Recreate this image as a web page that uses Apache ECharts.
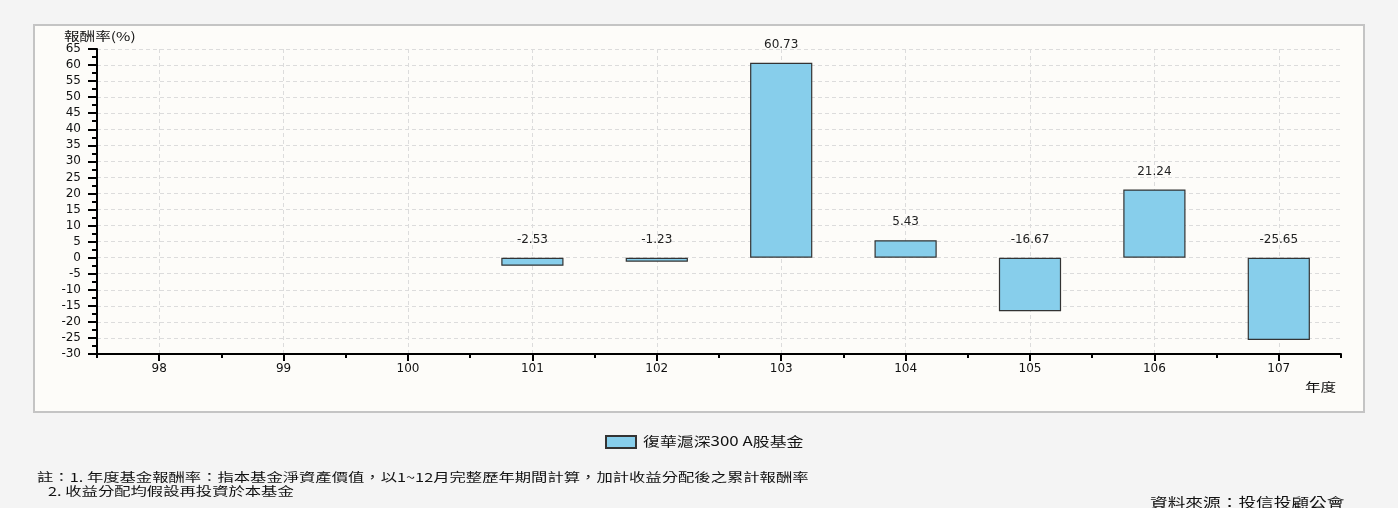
<!DOCTYPE html>
<html>
<head>
<meta charset="utf-8">
<script src="https://cdn.jsdelivr.net/npm/echarts@6/dist/echarts.min.js"></script>
<style>
html,body{margin:0;padding:0;background:#f4f4f4;}
#c{width:1398px;height:508px;}
</style>
</head>
<body>
<div id="c"></div>
<script>
const years = ['98','99','100','101','102','103','104','105','106','107'];
const returns = [null,null,null,-2.53,-1.23,60.73,5.43,-16.67,21.24,-25.65];
const seriesName = '復華滬深300 A股基金';
const yMin = -30, yMax = 65, yStep = 5;
const yAxisTitle = '報酬率(%)';
const xAxisTitle = '年度';
const notes = ['註：1. 年度基金報酬率：指本基金淨資產價值，以1~12月完整歷年期間計算，加計收益分配後之累計報酬率',
               '2. 收益分配均假設再投資於本基金'];
const sourceText = '資料來源：投信投顧公會';

const numFont = 'DejaVu Sans';
const cjkFont = '"Noto Sans CJK TC", "Noto Sans CJK SC", sans-serif';

const chart = echarts.init(document.getElementById('c'));
chart.setOption({
  backgroundColor: '#f4f4f4',
  animation: false,
  grid: { left: 97, right: 57, top: 49, bottom: 154, containLabel: false },
  legend: {
    data: [{ name: seriesName, icon: 'rect' }],
    left: 605, top: 435,
    itemWidth: 30, itemHeight: 12,
    itemGap: 0,
    formatter: function(){ return ''; },
    textStyle: { fontSize: 1 },
    padding: 0
  },
  xAxis: [{
    type: 'category',
    data: years,
    axisLine: { onZero: false, lineStyle: { color: '#000', width: 2 } },
    axisTick: { show: true, alignWithLabel: true, length: 7, lineStyle: { color: '#000', width: 2 } },
    axisLabel: { color: '#111', fontFamily: numFont, fontSize: 12, margin: 9 },
    splitLine: { show: true, alignWithLabel: true, lineStyle: { color: '#dcdcdc', type: [4, 3], width: 1 } }
  }, {
    type: 'category',
    data: years,
    position: 'bottom',
    axisLine: { show: false, onZero: false },
    axisTick: { show: true, length: 4, lineStyle: { color: '#000', width: 2 } },
    axisLabel: { show: false },
    splitLine: { show: false }
  }],
  yAxis: {
    type: 'value',
    min: yMin, max: yMax, interval: yStep,
    axisLine: { show: true, onZero: false, lineStyle: { color: '#000', width: 2 } },
    axisTick: { show: true, length: 9, lineStyle: { color: '#000', width: 2 } },
    minorTick: { show: true, splitNumber: 2, length: 5, lineStyle: { color: '#000', width: 2 } },
    axisLabel: { color: '#111', fontFamily: numFont, fontSize: 12, margin: 16 },
    splitLine: { show: true, lineStyle: { color: '#dcdcdc', type: [4, 3], width: 1 } }
  },
  series: [{
    name: seriesName,
    type: 'bar',
    data: returns,
    barWidth: '50%',
    itemStyle: { color: '#87CEEB', borderColor: '#333', borderWidth: 1.2 },
    label: {
      show: true, position: 'top', distance: 12,
      color: '#222', fontFamily: numFont, fontSize: 12,
      formatter: function(p){ return p.value.toFixed(2); }
    }
  }],
  graphic: [
    { type: 'rect', z: -100, shape: { x: 34, y: 25, width: 1330, height: 387 },
      style: { fill: '#fdfcf9', stroke: '#c4c4c4', lineWidth: 2 } },
    { type: 'text', x: 64, y: 36, scaleX: 1.3, style: { text: yAxisTitle, font: '12px ' + cjkFont, fill: '#111', textVerticalAlign: 'middle' } },
    { type: 'text', x: 1305, y: 387, scaleX: 1.3, style: { text: xAxisTitle, font: '12px ' + cjkFont, fill: '#111', textVerticalAlign: 'middle' } },
    { type: 'text', x: 643, y: 441, scaleX: 1.3, style: { text: seriesName, font: '13px ' + cjkFont, fill: '#111', textVerticalAlign: 'middle' } },
    { type: 'text', x: 37, y: 477, scaleX: 1.36, style: { text: notes[0], font: '12px ' + cjkFont, fill: '#111', textVerticalAlign: 'middle' } },
    { type: 'text', x: 48, y: 491, scaleX: 1.36, style: { text: notes[1], font: '12px ' + cjkFont, fill: '#111', textVerticalAlign: 'middle' } },
    { type: 'text', x: 1150, y: 502, scaleX: 1.36, style: { text: sourceText, font: '13px ' + cjkFont, fill: '#111', textVerticalAlign: 'middle' } }
  ]
});
</script>
</body>
</html>
